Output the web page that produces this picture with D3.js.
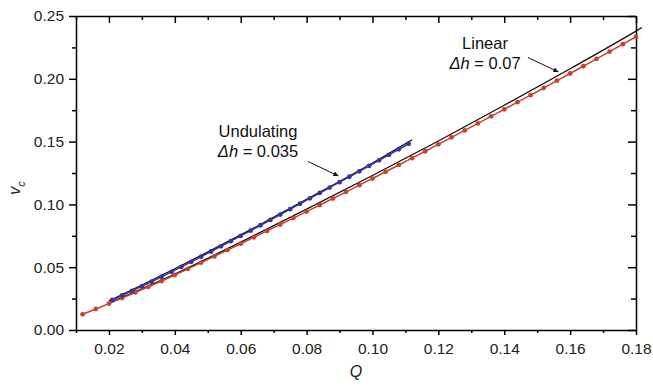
<!DOCTYPE html>
<html>
<head>
<meta charset="utf-8">
<script src="https://cdn.jsdelivr.net/npm/d3@7"></script>
<style>
body { margin: 0; background: #fff; }
svg { display: block; font-family: "Liberation Sans", Arial, sans-serif; }
.axis path, .axis line { stroke: #000; stroke-width: 1.5; }
.axis text { font-size: 15.5px; fill: #222; }
.note { font-size: 16.5px; fill: #111; }
</style>
</head>
<body>
<svg width="653" height="391"></svg>
<script>
// red series: Linear, dh = 0.07
var linearQ = [0.012, 0.016, 0.020, 0.024, 0.028, 0.032, 0.036, 0.040, 0.044, 0.048,
    0.052, 0.056, 0.060, 0.064, 0.068, 0.072, 0.076, 0.080, 0.084, 0.088,
    0.092, 0.096, 0.100, 0.104, 0.108, 0.112, 0.116, 0.120, 0.124, 0.128,
    0.132, 0.136, 0.140, 0.144, 0.148, 0.152, 0.156, 0.160, 0.164, 0.168,
    0.172, 0.176, 0.180];
var linearV = [0.0125, 0.0167, 0.0210, 0.0254, 0.0299, 0.0344, 0.0390, 0.0438, 0.0487, 0.0536,
    0.0586, 0.0636, 0.0687, 0.0738, 0.0789, 0.0840, 0.0891, 0.0943, 0.0995, 0.1047,
    0.1100, 0.1153, 0.1206, 0.1260, 0.1314, 0.1368, 0.1423, 0.1478, 0.1534, 0.1589,
    0.1645, 0.1701, 0.1757, 0.1814, 0.1870, 0.1927, 0.1985, 0.2042, 0.2100, 0.2158,
    0.2217, 0.2276, 0.2335];

// blue series: Undulating, dh = 0.035
var undQ = [0.021, 0.024, 0.027, 0.030, 0.033, 0.036, 0.039, 0.042, 0.045, 0.048,
    0.051, 0.054, 0.057, 0.060, 0.063, 0.066, 0.069, 0.072, 0.075, 0.078,
    0.081, 0.084, 0.087, 0.090, 0.093, 0.096, 0.099, 0.102, 0.105, 0.108, 0.111];
var undV = [0.0239, 0.0275, 0.0311, 0.0348, 0.0385, 0.0424, 0.0463, 0.0503, 0.0543, 0.0584,
    0.0625, 0.0666, 0.0707, 0.0749, 0.0791, 0.0834, 0.0876, 0.0919, 0.0962, 0.1005,
    0.1048, 0.1091, 0.1134, 0.1177, 0.1220, 0.1263, 0.1307, 0.1351, 0.1395, 0.1439, 0.1483];

// black reference curves
var linRefQ = [0.020, 0.040, 0.060, 0.080, 0.100, 0.120, 0.140, 0.160, 0.180, 0.1818];
var linRefV = [0.0215, 0.0446, 0.0700, 0.0962, 0.1230, 0.1505, 0.1789, 0.2080, 0.2380, 0.2408];
var undRefQ = [0.020, 0.040, 0.060, 0.080, 0.100, 0.112];
var undRefV = [0.0232, 0.0488, 0.0757, 0.1040, 0.1330, 0.1515];

var xTicks = [0.02, 0.04, 0.06, 0.08, 0.10, 0.12, 0.14, 0.16, 0.18];
var yTicks = [0.00, 0.05, 0.10, 0.15, 0.20, 0.25];

var svg = d3.select("svg"),
    margin = {top: 16, right: 17, bottom: 61, left: 76},
    width = 653 - margin.left - margin.right,
    height = 391 - margin.top - margin.bottom,
    g = svg.append("g").attr("transform", "translate(" + margin.left + "," + margin.top + ")");

var x = d3.scaleLinear().domain([0.01, 0.18]).range([0, width]),
    y = d3.scaleLinear().domain([0, 0.25]).range([height, 0]);

var red = "#c9432b", blue = "#34359d";

function pairs(qs, vs) {
    return qs.map(function(q, i) { return {q: q, v: vs[i]}; });
}

var line = d3.line()
    .x(function(d) { return x(d.q); })
    .y(function(d) { return y(d.v); });
var smooth = d3.line()
    .curve(d3.curveMonotoneX)
    .x(function(d) { return x(d.q); })
    .y(function(d) { return y(d.v); });

var minorX = d3.range(0.01, 0.1801, 0.01).filter(function(d) { return Math.abs(d * 50 - Math.round(d * 50)) > 0.01; });
var minorY = d3.range(0.025, 0.25, 0.05);

// minor ticks first, major axes on top
g.append("g").attr("class", "axis").attr("transform", "translate(0," + height + ")")
    .call(d3.axisBottom(x).tickValues(minorX).tickSize(3).tickFormat("")).select(".domain").remove();
g.append("g").attr("class", "axis")
    .call(d3.axisLeft(y).tickValues(minorY).tickSize(4).tickFormat("")).select(".domain").remove();
g.append("g").attr("class", "axis")
    .call(d3.axisTop(x).tickValues(minorX).tickSize(-4).tickFormat("")).select(".domain").remove();
g.append("g").attr("class", "axis").attr("transform", "translate(" + width + ",0)")
    .call(d3.axisRight(y).tickValues(minorY).tickSize(-5).tickFormat("")).select(".domain").remove();

g.append("g").attr("class", "axis").attr("transform", "translate(0," + height + ")")
    .call(d3.axisBottom(x).tickValues(xTicks).tickSize(5).tickSizeOuter(0).tickPadding(8).tickFormat(d3.format(".2f")));
g.append("g").attr("class", "axis")
    .call(d3.axisLeft(y).tickValues(yTicks).tickSize(7).tickSizeOuter(0).tickPadding(5).tickFormat(d3.format(".2f")));
g.append("g").attr("class", "axis")
    .call(d3.axisTop(x).tickValues(xTicks).tickSize(-7).tickSizeOuter(0).tickFormat(""));
g.append("g").attr("class", "axis").attr("transform", "translate(" + width + ",0)")
    .call(d3.axisRight(y).tickValues(yTicks).tickSize(-8).tickSizeOuter(0).tickFormat(""));

// axis titles
svg.append("text")
    .attr("x", margin.left + x(0.095)).attr("y", 377)
    .attr("text-anchor", "middle")
    .style("font-size", "16px").style("font-style", "italic").attr("fill", "#222")
    .text("Q");
var yl = svg.append("text")
    .attr("transform", "translate(20,188) rotate(-90)")
    .attr("text-anchor", "middle")
    .style("font-size", "16px").attr("fill", "#222");
yl.append("tspan").style("font-style", "italic").text("v");
yl.append("tspan").attr("dy", 5).style("font-size", "11px").style("font-style", "italic").text("c");

// black reference lines
g.append("path").datum(pairs(linRefQ, linRefV))
    .attr("d", smooth).attr("fill", "none").attr("stroke", "#111").attr("stroke-width", 1.3);
g.append("path").datum(pairs(undRefQ, undRefV))
    .attr("d", smooth).attr("fill", "none").attr("stroke", "#111").attr("stroke-width", 1.3);

// data series
var series = [
    {color: red, values: pairs(linearQ, linearV)},
    {color: blue, values: pairs(undQ, undV)}
];
var s = g.selectAll(".series").data(series).enter().append("g").attr("class", "series");
s.append("path")
    .attr("d", function(d) { return line(d.values); })
    .attr("fill", "none")
    .attr("stroke", function(d) { return d.color; })
    .attr("stroke-width", 1.5);
s.selectAll("circle")
    .data(function(d) { return d.values.map(function(o) { return {q: o.q, v: o.v, color: d.color}; }); })
    .enter().append("circle")
    .attr("r", 2.4)
    .attr("cx", function(d) { return x(d.q); })
    .attr("cy", function(d) { return y(d.v); })
    .attr("fill", function(d) { return d.color; });

// annotations
svg.append("defs").append("marker")
    .attr("id", "head").attr("viewBox", "0 0 10 10")
    .attr("refX", 10).attr("refY", 5)
    .attr("markerWidth", 7).attr("markerHeight", 5).attr("orient", "auto")
    .append("path").attr("d", "M0,0L10,5L0,10z").attr("fill", "#111");

function note(x0, y0, lines) {
    var t = svg.append("text").attr("class", "note").attr("text-anchor", "middle");
    lines.forEach(function(l, i) {
        var ts = t.append("tspan").attr("x", x0).attr("y", y0 + i * 20);
        if (i === 0) {
            ts.text(l);
        } else {
            ts.append("tspan").style("font-style", "italic").text("\u0394h");
            ts.append("tspan").text(" = " + l);
        }
    });
}
note(258, 137, ["Undulating", "0.035"]);
note(485, 49, ["Linear", "0.07"]);

svg.append("line").attr("x1", 308).attr("y1", 161.5).attr("x2", 338.5).attr("y2", 176)
    .attr("stroke", "#111").attr("stroke-width", 1).attr("marker-end", "url(#head)");
svg.append("line").attr("x1", 528).attr("y1", 57.5).attr("x2", 558.5).attr("y2", 72)
    .attr("stroke", "#111").attr("stroke-width", 1).attr("marker-end", "url(#head)");
</script>
</body>
</html>
